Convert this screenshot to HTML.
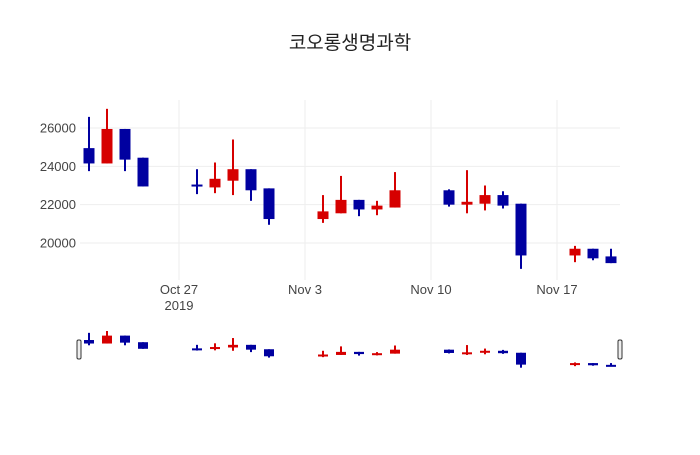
<!DOCTYPE html>
<html><head><meta charset="utf-8"><style>
body{margin:0;background:#fff;font-family:"Liberation Sans","Noto Sans CJK KR",sans-serif;}
svg text{font-family:"Liberation Sans","Noto Sans CJK KR",sans-serif;fill:#444;}
</style></head><body>
<svg id="c" width="700" height="450" xmlns="http://www.w3.org/2000/svg">
<rect width="700" height="450" fill="#fff"/>
<text x="350" y="49" text-anchor="middle" font-size="19" style="fill:#222">코오롱생명과학</text>
<g id="grid"></g><g id="candles"></g><g id="slider"></g>
</svg>
<script>
const dates=["2019-10-22","2019-10-23","2019-10-24","2019-10-25","2019-10-28","2019-10-29","2019-10-30","2019-10-31","2019-11-01","2019-11-04","2019-11-05","2019-11-06","2019-11-07","2019-11-08","2019-11-11","2019-11-12","2019-11-13","2019-11-14","2019-11-15","2019-11-18","2019-11-19","2019-11-20"];
const openV=[24950,24150,25950,24450,23050,22900,23250,23850,22850,21250,21550,22250,21750,21850,22750,22000,22050,22500,22050,19350,19700,19300];
const highV=[26580,27000,25950,24450,23850,24200,25400,23850,22850,22500,23500,22250,22200,23700,22800,23800,23000,22700,22050,19850,19700,19700];
const lowV=[23750,24150,23750,22950,22550,22600,22500,22200,20950,21050,21550,21400,21450,21850,21900,21550,21700,21800,18650,19000,19100,18950];
const closeV=[24150,25950,24350,22950,22950,23350,23850,22750,21250,21650,22250,21750,21950,22750,22000,22150,22500,21950,19350,19700,19200,18950];
const yTicks=[20000,22000,24000,26000];
const xTickDates=["2019-10-27","2019-11-03","2019-11-10","2019-11-17"];
const xTickLabels=["Oct 27","Nov 3","Nov 10","Nov 17"];

const NS="http://www.w3.org/2000/svg";
const svg=document.getElementById('c');
const day=864e5, t0=Date.parse("2019-10-27");
const X=d=>179+(Date.parse(d)-t0)/day*18;
const Y=v=>243-(v-20000)*0.019167;
const SY=v=>331+(27000-v)*36.7/8350;
function mk(tag,a,p){const e=document.createElementNS(NS,tag);for(const k in a)e.setAttribute(k,a[k]);p.appendChild(e);return e;}
const grid=document.getElementById('grid');
yTicks.forEach(v=>{
  const l=mk('line',{x1:80,x2:620,y1:Y(v),y2:Y(v),stroke:'#eee','stroke-width':1},grid);
  
  
  const t=mk('text',{x:76,y:Y(v)+4.5,'text-anchor':'end','font-size':13},grid);
  t.textContent=v;
  
  
});
xTickDates.forEach((d,i)=>{
  const l=mk('line',{x1:X(d),x2:X(d),y1:100,y2:280,stroke:'#eee','stroke-width':1},grid);
  
  
  const t=mk('text',{x:X(d),y:294,'text-anchor':'middle','font-size':13},grid);
  t.textContent=xTickLabels[i];
  
  
});
const yr=mk('text',{x:X(xTickDates[0]),y:310,'text-anchor':'middle','font-size':13},grid);
yr.textContent="2019";



const cg=document.getElementById('candles'), sg=document.getElementById('slider');
function candle(g,i,yf,w){
  const up=closeV[i]>openV[i], col=up?'#d60000':'#0000a0';
  const x=X(dates[i]);
  const grp=mk('g',{},g);
  
  
  mk('line',{x1:x,x2:x,y1:yf(highV[i]),y2:yf(lowV[i]),stroke:col,'stroke-width':2},grp);
  const top=yf(Math.max(openV[i],closeV[i])), bot=yf(Math.min(openV[i],closeV[i]));
  mk('rect',{x:x-w/2,y:top,width:w,height:Math.max(bot-top,2),fill:col},grp);
}
dates.forEach((d,i)=>candle(cg,i,Y,11));
dates.forEach((d,i)=>candle(sg,i,SY,10));
[79,620].forEach((x,k)=>{
  const h=mk('rect',{x:x-2,y:340,width:4,height:19,rx:1.5,fill:'#eee',stroke:'#333','stroke-width':1},sg);
  
  
});
</script>
</body></html>
